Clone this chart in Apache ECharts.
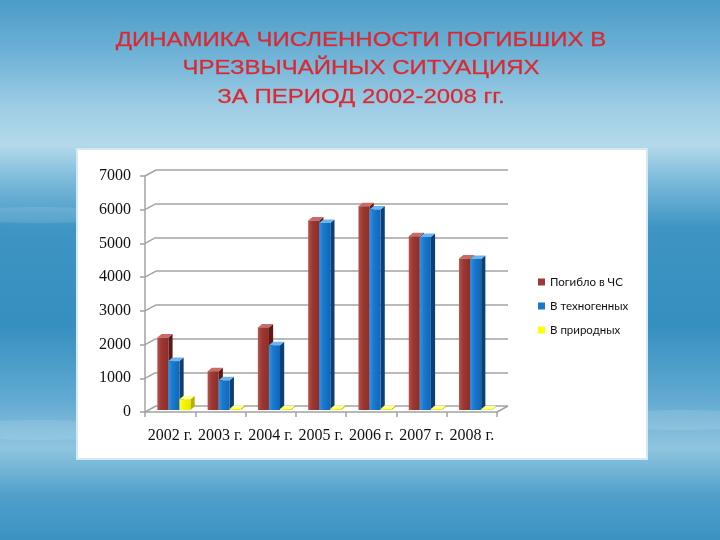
<!DOCTYPE html>
<html><head><meta charset="utf-8">
<script src="https://cdn.jsdelivr.net/npm/echarts@6/dist/echarts.min.js"></script>
<style>html,body{margin:0;padding:0;background:#3a93c4;}#c{width:720px;height:540px;}</style>
</head><body><div id="c"></div>
<script>
// ---- data ----
const categories = ['2002 г.', '2003 г.', '2004 г.', '2005 г.', '2006 г.', '2007 г.', '2008 г.'];
const seriesNames = ['Погибло в ЧС', 'В техногенных', 'В природных'];
const totalDeaths = [2150, 1150, 2450, 5620, 6040, 5150, 4490];
const techDeaths = [1450, 880, 1920, 5550, 5950, 5130, 4480];
const naturalDeaths = [320, 40, 30, 40, 35, 30, 25];
const yTicks = [0, 1000, 2000, 3000, 4000, 5000, 6000, 7000];
const titleLines = ['ДИНАМИКА ЧИСЛЕННОСТИ ПОГИБШИХ В', 'ЧРЕЗВЫЧАЙНЫХ СИТУАЦИЯХ', 'ЗА ПЕРИОД 2002-2008 гг.'];

// ---- styling ----
const DX = 11, DY = -6;          // depth of the chart box
const GRID_COLOR = '#a3a3a3';
const palettes = [
  {legend: '#9e3a35', side: '#5c1b18', top: '#c86d66', front: ['#b8524c', '#9e3833', '#8c2d29']},
  {legend: '#1a78cc', side: '#0b3f76', top: '#69b6ee', front: ['#3393e2', '#1a7ad0', '#1166b6']},
  {legend: '#ffff00', side: '#b3b300', top: '#ffff9a', front: ['#ffff40', '#f6f600', '#e8e800']}
];
const seriesValues = [totalDeaths, techDeaths, naturalDeaths];

const chart = echarts.init(document.getElementById('c'), null, {renderer: 'canvas'});

function barRender(sIdx) {
  const pal = palettes[sIdx];
  return function (params, api) {
    const i = api.value(0), v = api.value(1);
    const base = api.coord([i, 0]);
    const top = api.coord([i, v]);
    const cw = api.size([1, 0])[0];
    const bw = cw * 0.22;
    const x = base[0] - cw * 0.255 + sIdx * bw;
    const yb = base[1] - 2, yt = top[1] - 2;
    const d = 4.2, dh = -3.5;
    return {
      type: 'group',
      children: [
        {type: 'polygon', shape: {points: [[x + bw, yb], [x + bw + d, yb + dh], [x + bw + d, yt + dh], [x + bw, yt]]},
          style: {fill: pal.side}},
        {type: 'polygon', shape: {points: [[x, yt], [x + d, yt + dh], [x + bw + d, yt + dh], [x + bw, yt]]},
          style: {fill: pal.top}},
        {type: 'rect', shape: {x: x, y: yt, width: bw, height: Math.max(yb - yt, 0.5)},
          style: {fill: new echarts.graphic.LinearGradient(0, 0, 1, 0, [
            {offset: 0, color: pal.front[0]}, {offset: 0.35, color: pal.front[1]}, {offset: 1, color: pal.front[2]}])}}
      ]
    };
  };
}

const barSeries = seriesNames.map((name, s) => ({
  name: name,
  type: 'custom',
  xAxisIndex: 0, yAxisIndex: 0,
  itemStyle: {color: palettes[s].legend},
  renderItem: barRender(s),
  encode: {x: 0, y: 1},
  data: seriesValues[s].map((v, i) => [i, v]),
  z: 5
}));

const connectorSeries = {
  type: 'custom',
  xAxisIndex: 0, yAxisIndex: 0,
  silent: true,
  z: 1,
  renderItem: function (params, api) {
    const v = api.value(1);
    const p = api.coord([0, v]);
    const w = api.size([1, 0])[0];
    const x0 = p[0] - w / 2;
    const st = {stroke: GRID_COLOR, lineWidth: 1.5};
    const children = [{type: 'line', shape: {x1: x0, y1: p[1], x2: x0 + DX, y2: p[1] + DY}, style: st}];
    if (v === 0) {
      const pr = api.coord([categories.length - 1, 0]);
      const xr = pr[0] + w / 2;
      children.push({type: 'line', shape: {x1: xr, y1: pr[1], x2: xr + DX, y2: pr[1] + DY}, style: st});
    }
    return {type: 'group', children: children};
  },
  data: yTicks.map(v => [0, v])
};

const titleGraphics = titleLines.map((t, k) => ({
  type: 'text',
  x: 361, y: 40.5 + k * 28.2,
  scaleY: 0.86,
  z: 100,
  style: {
    text: t, x: 0, y: 0,
    fill: '#e8232b',
    stroke: 'rgba(120,10,10,0.45)', lineWidth: 0.4,
    shadowBlur: 2, shadowColor: 'rgba(90,0,0,0.55)',
    font: '24px "Liberation Sans", Arial, sans-serif',
    textAlign: 'center', textVerticalAlign: 'middle'
  }
}));

const soft = {fill: 'rgba(255,255,255,0.10)', shadowBlur: 40, shadowColor: 'rgba(255,255,255,0.45)'};

const option = {
  animation: false,
  backgroundColor: new echarts.graphic.LinearGradient(0, 0, 0, 1, [
    {offset: 0, color: '#4b9cc8'},
    {offset: 0.1, color: '#6fb2d6'},
    {offset: 0.2, color: '#9fcde5'},
    {offset: 0.27, color: '#b3d9ea'},
    {offset: 0.33, color: '#7fbcdb'},
    {offset: 0.42, color: '#3e95c4'},
    {offset: 0.6, color: '#358fc0'},
    {offset: 0.74, color: '#62aad2'},
    {offset: 0.83, color: '#8ec5de'},
    {offset: 0.92, color: '#4f9fca'},
    {offset: 1, color: '#3b93c3'}
  ]),
  graphic: [
    {type: 'ellipse', z: -100, shape: {cx: 40, cy: 215, rx: 90, ry: 8}, style: soft},
    {type: 'ellipse', z: -100, shape: {cx: 680, cy: 420, rx: 90, ry: 10}, style: soft},
    {type: 'ellipse', z: -100, shape: {cx: 40, cy: 430, rx: 90, ry: 10}, style: soft},
    {type: 'rect', z: -50, shape: {x: 77, y: 149, width: 570, height: 310},
      style: {fill: '#ffffff', stroke: '#d3eaf5', lineWidth: 2}},
    ...titleGraphics
  ],
  legend: {
    orient: 'vertical',
    left: 533, top: 270,
    itemWidth: 7, itemHeight: 7,
    itemGap: 10,
    icon: 'rect',
    data: seriesNames,
    textStyle: {fontFamily: 'Lato', fontSize: 11.5, color: '#111', lineHeight: 14}
  },
  grid: [
    {left: 145, top: 176, width: 352, height: 236},
    {left: 145 + DX, top: 176 + DY, width: 352, height: 236}
  ],
  xAxis: [
    {
      type: 'category', gridIndex: 0, data: categories,
      axisLine: {lineStyle: {color: GRID_COLOR, width: 1.5}},
      axisTick: {show: true, length: 5, lineStyle: {color: GRID_COLOR, width: 1.5}},
      axisLabel: {fontFamily: '"Liberation Serif", serif', fontSize: 16, color: '#111', margin: 16, interval: 0},
      splitLine: {show: false}
    },
    {type: 'category', gridIndex: 1, data: categories, show: false}
  ],
  yAxis: [
    {
      type: 'value', gridIndex: 0, min: 0, max: 7000, interval: 1000,
      axisLine: {show: true, lineStyle: {color: GRID_COLOR, width: 1.5}},
      axisTick: {show: true, length: 5, lineStyle: {color: GRID_COLOR, width: 1.5}},
      axisLabel: {fontFamily: '"Liberation Serif", serif', fontSize: 16, color: '#111', margin: 14,
        formatter: v => String(v)},
      splitLine: {show: false}
    },
    {
      type: 'value', gridIndex: 1, min: 0, max: 7000, interval: 1000,
      axisLine: {show: false}, axisTick: {show: false}, axisLabel: {show: false},
      splitLine: {show: true, lineStyle: {color: GRID_COLOR, width: 1.5}}
    }
  ],
  series: [connectorSeries, ...barSeries]
};
chart.setOption(option);
</script>
</body></html>
